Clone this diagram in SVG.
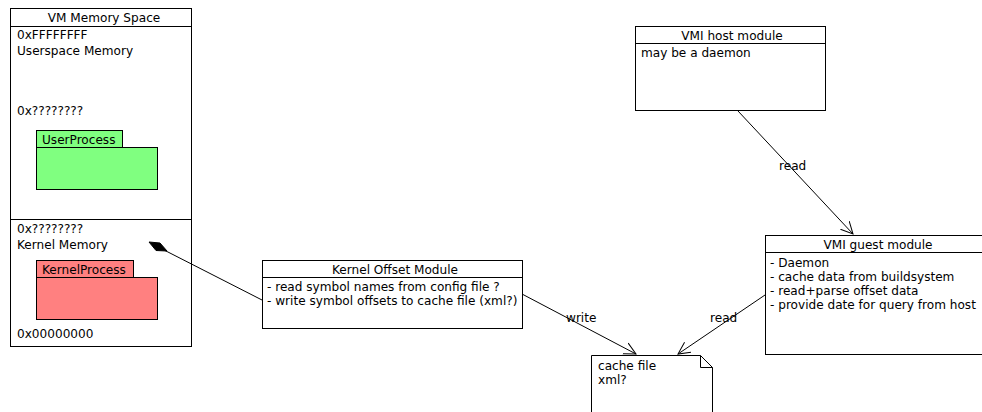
<svg xmlns="http://www.w3.org/2000/svg" width="982" height="412" viewBox="0 0 982 412">
  <style>
    .box { fill: #ffffff; stroke: #000000; stroke-width: 1; }
    .line { fill: none; stroke: #000000; stroke-width: 1; }
    text { font-family: "DejaVu Sans", sans-serif; font-size: 12.1px; fill: #000000; }
    .title { text-anchor: middle; }
    .user { fill: #80ff80; stroke: #000000; stroke-width: 1; }
    .kern { fill: #ff8080; stroke: #000000; stroke-width: 1; }
  </style>
  <defs>
    <marker id="open-arrow" markerWidth="14" markerHeight="14" refX="12" refY="7" orient="auto" markerUnits="userSpaceOnUse">
      <path d="M0,1 L12,7 L0,13" fill="none" stroke="#000000" stroke-width="1"/>
    </marker>
  </defs>

  <!-- VM memory space -->
  <g id="vm-memory-space">
    <rect class="box" x="10.5" y="8.5" width="181" height="338"/>
    <line class="line" x1="10.5" y1="26.5" x2="191.5" y2="26.5"/>
    <line class="line" x1="10.5" y1="219.5" x2="191.5" y2="219.5"/>
    <text class="title" x="104" y="22">VM Memory Space</text>
    <text x="17" y="39">0xFFFFFFFF</text>
    <text x="17" y="55">Userspace Memory</text>
    <text x="17" y="115">0x????????</text>
    <text x="17" y="233">0x????????</text>
    <text x="17" y="249">Kernel Memory</text>
    <text x="17" y="338">0x00000000</text>
  </g>

  <g id="user-process">
    <rect class="user" x="36.5" y="130.5" width="86" height="17"/>
    <rect class="user" x="36.5" y="147.5" width="121" height="42"/>
    <text x="42" y="144">UserProcess</text>
  </g>

  <g id="kernel-process">
    <rect class="kern" x="36.5" y="260.5" width="97" height="17"/>
    <rect class="kern" x="36.5" y="277.5" width="121" height="42"/>
    <text x="42" y="274">KernelProcess</text>
  </g>

  <!-- Kernel offset module -->
  <g id="kernel-offset-module">
    <rect class="box" x="262.5" y="260.5" width="260" height="68"/>
    <line class="line" x1="262.5" y1="277.5" x2="522.5" y2="277.5"/>
    <text class="title" x="395" y="274">Kernel Offset Module</text>
    <text x="267" y="291">- read symbol names from config file ?</text>
    <text x="267" y="305">- write symbol offsets to cache file (xml?)</text>
  </g>

  <!-- VMI host module -->
  <g id="vmi-host-module">
    <rect class="box" x="635.5" y="26.5" width="190" height="84"/>
    <line class="line" x1="635.5" y1="43.5" x2="825.5" y2="43.5"/>
    <text class="title" x="732" y="40">VMI host module</text>
    <text x="641" y="57">may be a daemon</text>
  </g>

  <!-- VMI guest module -->
  <g id="vmi-guest-module">
    <rect class="box" x="765.5" y="235.5" width="226" height="119"/>
    <line class="line" x1="765.5" y1="252.5" x2="991.5" y2="252.5"/>
    <text class="title" x="878" y="249">VMI guest module</text>
    <text x="770" y="267">- Daemon</text>
    <text x="770" y="281">- cache data from buildsystem</text>
    <text x="770" y="295">- read+parse offset data</text>
    <text x="770" y="309">- provide date for query from host</text>
  </g>

  <!-- Cache file note -->
  <g id="cache-file">
    <path class="box" d="M591.5,355.5 L700.5,355.5 L712.5,367.5 L712.5,420 L591.5,420 Z"/>
    <path class="line" d="M700.5,355.5 L700.5,367.5 L712.5,367.5"/>
    <text x="598" y="370">cache file</text>
    <text x="598" y="384">xml?</text>
  </g>

  <!-- Connectors -->
  <g id="connectors">
    <line class="line" x1="738" y1="111" x2="853" y2="234" marker-end="url(#open-arrow)"/>
    <text x="779" y="170">read</text>
    <line class="line" x1="522" y1="294" x2="636" y2="354" marker-end="url(#open-arrow)"/>
    <text x="566" y="322">write</text>
    <line class="line" x1="765" y1="295" x2="678" y2="354" marker-end="url(#open-arrow)"/>
    <text x="710" y="322">read</text>
    <line class="line" x1="262" y1="300" x2="165" y2="250.5"/>
    <path d="M149,242 L160,243 L167,251 L156,250.5 Z" fill="#000000" stroke="#000000" stroke-width="1"/>
  </g>
</svg>
